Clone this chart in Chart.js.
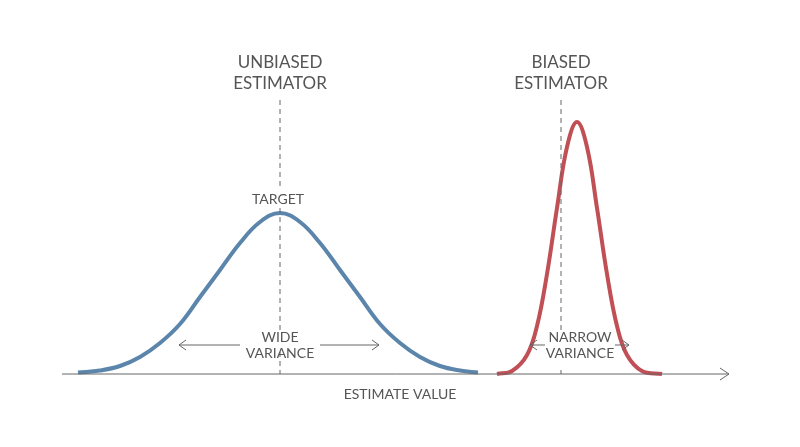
<!DOCTYPE html>
<html><head><meta charset="utf-8">
<script src="https://cdn.jsdelivr.net/npm/chart.js@4"></script>
<style>html,body{margin:0;background:#fff}#w{width:800px;height:447px}</style>
</head><body><div id="w"><canvas id="c"></canvas></div>
<script>
const unbiasedX = [78,100,120,140,160,180,200,220,240,260,280,300,320,340,360,380,400,420,440,460,478];
const unbiasedY = [1.4,3.5,8,17,31,50,77,104,131,152,161,152,131,104,77,50,31,17,8,3.5,1.4];
const biasedX = [497,512,527,537,547,557,567,577,587,597,607,617,627,642,662];
const biasedY = [0,3,19,48,100,166,227,252,227,166,100,48,19,3,0];
const targets = [{x:280,label:["UNBIASED","ESTIMATOR"]},{x:561,label:["BIASED","ESTIMATOR"]}];
const axisTitle = "ESTIMATE VALUE";
const gray = "#666";
const pts=(xs,ys)=>xs.map((x,i)=>({x,y:ys[i]}));
const deco={id:'deco',afterDatasetsDraw(ch){
  const c=ch.ctx,X=ch.scales.x,Y=ch.scales.y;
  const px=v=>X.getPixelForValue(v),py=v=>Y.getPixelForValue(v);
  c.save();c.strokeStyle=gray;c.fillStyle="#555";c.lineWidth=1;
  c.beginPath();c.moveTo(px(62),py(0));c.lineTo(px(729),py(0));c.stroke();
  c.beginPath();c.moveTo(px(720),py(6));c.lineTo(px(729),py(0));c.lineTo(px(720),py(-6));c.stroke();
  c.setLineDash([5,4]);
  targets.forEach(t=>{c.beginPath();c.moveTo(px(t.x),py(274));c.lineTo(px(t.x),py(0));c.stroke();});
  c.setLineDash([]);
  c.textAlign="center";c.textBaseline="middle";
  c.font="17px Lato";
  targets.forEach(t=>{c.fillText(t.label[0],px(t.x),py(311));c.fillText(t.label[1],px(t.x),py(290));});
  c.font="14px Lato";
  c.fillText(axisTitle,px(400),py(-20));
  c.fillStyle="#fff";c.fillRect(px(246),py(186),68,20);
  c.fillStyle="#555";c.fillText("TARGET",px(278),py(175));
  c.fillStyle="#fff";c.fillRect(px(248),py(44),64,20);c.fillRect(px(544),py(44),72,36);
  c.fillStyle="#555";
  c.fillText("WIDE",px(280),py(37));c.fillText("VARIANCE",px(280),py(21));
  c.fillText("NARROW",px(580),py(37));c.fillText("VARIANCE",px(580),py(21));
  const arrow=(a,b,yv)=>{c.beginPath();c.moveTo(px(a),py(yv));c.lineTo(px(b),py(yv));c.stroke();
    const d=b>a?-7:7;c.beginPath();c.moveTo(px(b)+d,py(yv)-5);c.lineTo(px(b),py(yv));c.lineTo(px(b)+d,py(yv)+5);c.stroke();};
  arrow(240,179,29);arrow(320,379,29);arrow(545,530,29);arrow(615,629,29);
  c.restore();}};
new Chart(document.getElementById('c'),{type:'scatter',
 data:{datasets:[
  {data:pts(unbiasedX,unbiasedY),showLine:true,borderColor:'#5b85ab',borderWidth:4,pointRadius:0,tension:0.4},
  {data:pts(biasedX,biasedY),showLine:true,borderColor:'#c05055',borderWidth:4,pointRadius:0,tension:0.4}]},
 options:{responsive:true,maintainAspectRatio:false,animation:false,layout:{padding:0},
  plugins:{legend:{display:false},tooltip:{enabled:false}},
  scales:{x:{type:'linear',min:0,max:800,display:false},y:{min:-73,max:374,display:false}}},
 plugins:[deco]});
</script></body></html>
